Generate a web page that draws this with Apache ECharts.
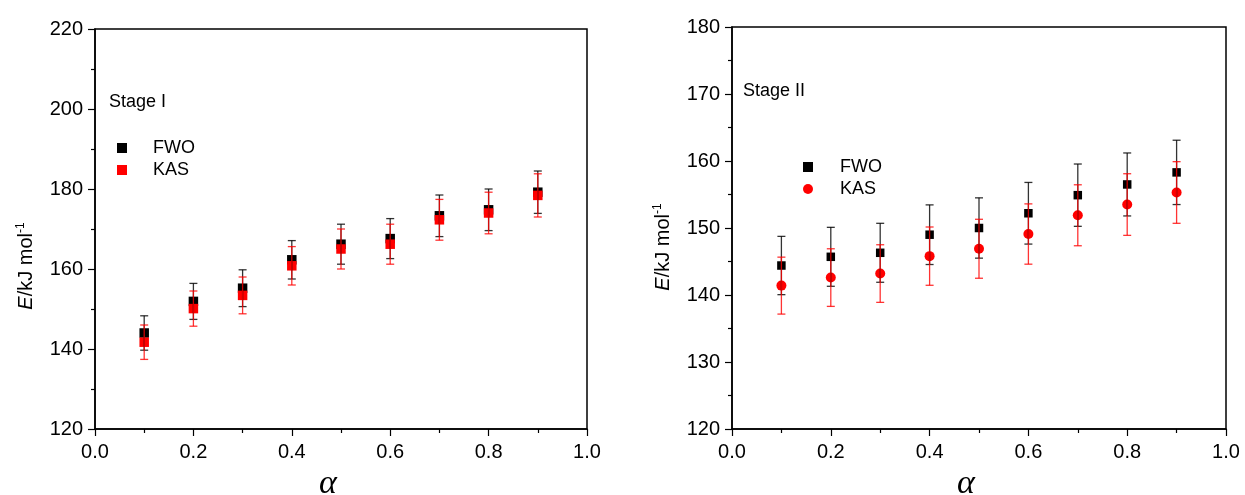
<!DOCTYPE html>
<html>
<head>
<meta charset="utf-8">
<script src="https://cdn.jsdelivr.net/npm/echarts@6/dist/echarts.min.js"></script>
<style>
html,body{margin:0;padding:0;background:#fff;}
#chart{width:1245px;height:495px;}
</style>
</head>
<body>
<div id="chart"></div>
<script>
// ---- data ----
const alpha = [0.1, 0.2, 0.3, 0.4, 0.5, 0.6, 0.7, 0.8, 0.9];
// Stage I
const fwo1 = [144.0, 151.9, 155.2, 162.3, 166.2, 167.6, 173.3, 174.8, 179.2];
const fwo1Err = [4.3, 4.5, 4.6, 4.8, 5.0, 5.0, 5.2, 5.2, 5.3];
const kas1 = [141.7, 150.1, 153.4, 160.8, 165.0, 166.2, 172.3, 174.0, 178.4];
const kas1Err = [4.3, 4.4, 4.6, 4.8, 5.0, 5.0, 5.1, 5.2, 5.4];
// Stage II
const fwo2 = [144.4, 145.7, 146.3, 149.0, 150.0, 152.2, 154.9, 156.5, 158.3];
const fwo2Err = [4.35, 4.4, 4.4, 4.45, 4.5, 4.6, 4.65, 4.7, 4.8];
const kas2 = [141.4, 142.6, 143.2, 145.8, 146.9, 149.1, 151.9, 153.5, 155.3];
const kas2Err = [4.25, 4.3, 4.3, 4.35, 4.4, 4.5, 4.55, 4.6, 4.6];
// axis ticks
const xTicks = {min: 0, max: 1, interval: 0.2};
const y1Ticks = {min: 120, max: 220, interval: 20};
const y2Ticks = {min: 120, max: 180, interval: 10};

const FONT = '"Liberation Sans", Arial, sans-serif';

function pts(xs, ys) { return xs.map((x, i) => [x, ys[i]]); }
function errPts(xs, ys, es) { return xs.map((x, i) => [x, ys[i] - es[i], ys[i] + es[i]]); }

function errorBar(color) {
  return function (params, api) {
    const x = api.value(0), lo = api.value(1), hi = api.value(2);
    const a = api.coord([x, hi]), b = api.coord([x, lo]);
    const hw = 4;
    const st = {stroke: color, lineWidth: 1.3, opacity: 0.8};
    return {type: 'group', children: [
      {type: 'line', shape: {x1: a[0], y1: a[1], x2: b[0], y2: b[1]}, style: st},
      {type: 'line', shape: {x1: a[0] - hw, y1: a[1], x2: a[0] + hw, y2: a[1]}, style: st},
      {type: 'line', shape: {x1: b[0] - hw, y1: b[1], x2: b[0] + hw, y2: b[1]}, style: st}
    ]};
  };
}

function xAxisCfg(gi) {
  return {
    gridIndex: gi, type: 'value', min: xTicks.min, max: xTicks.max, interval: xTicks.interval,
    name: 'α', nameLocation: 'middle', nameGap: 30,
    nameTextStyle: {fontFamily: '"Liberation Serif", "Times New Roman", serif', fontStyle: 'italic', fontSize: 34, color: '#000', padding: [0, 26, 0, 0]},
    axisLine: {show: true, onZero: false, lineStyle: {color: '#000', width: 1.5}},
    axisTick: {show: true, inside: false, length: 7, lineStyle: {color: '#000', width: 1.2}},
    minorTick: {show: true, splitNumber: 2, length: 4, lineStyle: {color: '#000', width: 1.2}},
    axisLabel: {color: '#000', fontFamily: FONT, fontSize: 20, margin: 13, formatter: v => v.toFixed(1)},
    splitLine: {show: false}
  };
}
function yAxisCfg(gi, t, shift) {
  return {
    gridIndex: gi, type: 'value', min: t.min, max: t.max, interval: t.interval,
    name: '{i|E}/kJ mol{s|-1}', nameLocation: 'middle', nameGap: 58, nameRotate: 90,
    nameTextStyle: {color: '#000', fontFamily: FONT, fontSize: 20, padding: [0, shift * 2, 0, 0],
      rich: {i: {fontStyle: 'italic', fontFamily: FONT, fontSize: 20, color: '#000'},
             s: {fontFamily: FONT, fontSize: 12, color: '#000', verticalAlign: 'top', padding: [0, 0, 10, 0]}}},
    axisLine: {show: true, onZero: false, lineStyle: {color: '#000', width: 1.5}},
    axisTick: {show: true, inside: false, length: 7, lineStyle: {color: '#000', width: 1.2}},
    minorTick: {show: true, splitNumber: 2, length: 4, lineStyle: {color: '#000', width: 1.2}},
    axisLabel: {color: '#000', fontFamily: FONT, fontSize: 20, margin: 12},
    splitLine: {show: false}
  };
}

const chart = echarts.init(document.getElementById('chart'), null, {renderer: 'canvas'});
chart.setOption({
  backgroundColor: '#fff',
  animation: false,
  textStyle: {fontFamily: FONT},
  grid: [
    {left: 95, top: 29, width: 492, height: 400, containLabel: false, outerBoundsMode: 'none',
     show: true, borderColor: '#000', borderWidth: 1.5, backgroundColor: 'transparent'},
    {left: 732, top: 27, width: 494, height: 402, containLabel: false, outerBoundsMode: 'none',
     show: true, borderColor: '#000', borderWidth: 1.5, backgroundColor: 'transparent'}
  ],
  xAxis: [xAxisCfg(0), xAxisCfg(1)],
  yAxis: [yAxisCfg(0, y1Ticks, 37), yAxisCfg(1, y2Ticks, 19)],
  legend: [
    {orient: 'vertical', left: 112, top: 134, itemWidth: 10, itemHeight: 10, itemGap: 4,
     textStyle: {fontFamily: FONT, fontSize: 18, color: '#000', padding: [0, 0, 0, 21]},
     data: [{name: 'FWO', icon: 'rect'}, {name: 'KAS', icon: 'rect'}]},
    {orient: 'vertical', left: 798, top: 153, itemWidth: 10, itemHeight: 10, itemGap: 4,
     textStyle: {fontFamily: FONT, fontSize: 18, color: '#000', padding: [0, 0, 0, 22]},
     data: [{name: 'FWO', icon: 'rect'}, {name: 'KAS', icon: 'circle'}]}
  ],
  graphic: [
    {type: 'text', left: 109, top: 93, style: {text: 'Stage I', fontFamily: FONT, fontSize: 18, fill: '#000'}},
    {type: 'text', left: 743, top: 82, style: {text: 'Stage II', fontFamily: FONT, fontSize: 18, fill: '#000'}}
  ],
  series: [
    {name: 'FWO', type: 'scatter', xAxisIndex: 0, yAxisIndex: 0, symbol: 'rect', symbolSize: 9.5,
     itemStyle: {color: '#000', opacity: 1}, data: pts(alpha, fwo1), z: 2},
    {name: 'KAS', type: 'scatter', xAxisIndex: 0, yAxisIndex: 0, symbol: 'rect', symbolSize: 9.5,
     itemStyle: {color: '#ff0000', opacity: 1}, data: pts(alpha, kas1), z: 3},
    {type: 'custom', xAxisIndex: 0, yAxisIndex: 0, renderItem: errorBar('#000'),
     encode: {x: 0, y: [1, 2]}, data: errPts(alpha, fwo1, fwo1Err), z: 4, silent: true},
    {type: 'custom', xAxisIndex: 0, yAxisIndex: 0, renderItem: errorBar('#ff0000'),
     encode: {x: 0, y: [1, 2]}, data: errPts(alpha, kas1, kas1Err), z: 4, silent: true},

    {name: 'FWO', type: 'scatter', xAxisIndex: 1, yAxisIndex: 1, symbol: 'rect', symbolSize: 8.5,
     itemStyle: {color: '#000', opacity: 1}, data: pts(alpha, fwo2), z: 2},
    {name: 'KAS', type: 'scatter', xAxisIndex: 1, yAxisIndex: 1, symbol: 'circle', symbolSize: 10,
     itemStyle: {color: '#ff0000', opacity: 1}, data: pts(alpha, kas2), z: 3},
    {type: 'custom', xAxisIndex: 1, yAxisIndex: 1, renderItem: errorBar('#000'),
     encode: {x: 0, y: [1, 2]}, data: errPts(alpha, fwo2, fwo2Err), z: 4, silent: true},
    {type: 'custom', xAxisIndex: 1, yAxisIndex: 1, renderItem: errorBar('#ff0000'),
     encode: {x: 0, y: [1, 2]}, data: errPts(alpha, kas2, kas2Err), z: 4, silent: true}
  ]
});
</script>
</body>
</html>
